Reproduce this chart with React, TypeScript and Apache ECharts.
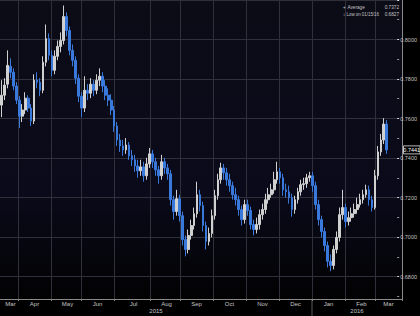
import React, { useEffect, useRef } from 'react';
import * as echarts from 'echarts';

// ---- data -------------------------------------------------------------
const START_DATE = [2015, 2, 17]; // first trading day on the axis (17 Mar 2015)
const TRADING_DAYS = 268; // weekdays spanned by the x axis
const DAYS_PER_CANDLE = 2;

// [open, close, low, high] per two-day candle, AUD/USD
const OHLC: number[][] = [
  [0.7668, 0.7718, 0.7607, 0.7794], [0.7718, 0.7769, 0.7693, 0.7804], [0.7774, 0.7869, 0.7753, 0.7945],
  [0.7864, 0.7834, 0.7804, 0.7905], [0.7834, 0.7764, 0.7743, 0.7854], [0.7764, 0.7693, 0.7673, 0.7784],
  [0.7693, 0.7612, 0.7552, 0.7713], [0.7612, 0.7643, 0.7582, 0.7673], [0.7643, 0.7703, 0.7622, 0.7733],
  [0.7703, 0.7653, 0.7633, 0.7718], [0.7653, 0.7587, 0.7562, 0.7673], [0.7587, 0.7794, 0.7572, 0.7824],
  [0.7794, 0.7784, 0.7753, 0.7834], [0.7784, 0.7743, 0.7713, 0.7804], [0.7743, 0.7885, 0.7728, 0.7915],
  [0.7885, 0.8005, 0.7864, 0.8076], [0.8005, 0.7920, 0.7895, 0.8031], [0.7920, 0.7844, 0.7814, 0.7945],
  [0.7844, 0.7915, 0.7824, 0.7945], [0.7915, 0.7965, 0.7895, 0.7995], [0.7965, 0.7995, 0.7935, 0.8036],
  [0.7995, 0.8116, 0.7975, 0.8172], [0.8116, 0.8046, 0.8016, 0.8137], [0.8046, 0.7945, 0.7920, 0.8066],
  [0.7945, 0.7895, 0.7864, 0.7975], [0.7895, 0.7804, 0.7774, 0.7915], [0.7804, 0.7713, 0.7683, 0.7824],
  [0.7713, 0.7653, 0.7607, 0.7733], [0.7653, 0.7743, 0.7633, 0.7814], [0.7743, 0.7728, 0.7693, 0.7774],
  [0.7728, 0.7774, 0.7703, 0.7804], [0.7774, 0.7743, 0.7713, 0.7794], [0.7743, 0.7794, 0.7723, 0.7824],
  [0.7794, 0.7814, 0.7764, 0.7854], [0.7814, 0.7764, 0.7733, 0.7834], [0.7764, 0.7718, 0.7693, 0.7794],
  [0.7718, 0.7693, 0.7663, 0.7753], [0.7693, 0.7643, 0.7617, 0.7723], [0.7643, 0.7562, 0.7532, 0.7663],
  [0.7562, 0.7491, 0.7461, 0.7582], [0.7491, 0.7461, 0.7431, 0.7522], [0.7461, 0.7441, 0.7411, 0.7491],
  [0.7441, 0.7466, 0.7421, 0.7501], [0.7466, 0.7411, 0.7391, 0.7481], [0.7411, 0.7391, 0.7360, 0.7441],
  [0.7391, 0.7360, 0.7330, 0.7416], [0.7360, 0.7335, 0.7300, 0.7391], [0.7335, 0.7355, 0.7310, 0.7391],
  [0.7355, 0.7310, 0.7280, 0.7381], [0.7310, 0.7370, 0.7290, 0.7401], [0.7370, 0.7421, 0.7350, 0.7451],
  [0.7421, 0.7381, 0.7350, 0.7441], [0.7381, 0.7340, 0.7310, 0.7401], [0.7340, 0.7310, 0.7270, 0.7360],
  [0.7310, 0.7381, 0.7290, 0.7416], [0.7381, 0.7350, 0.7320, 0.7401], [0.7350, 0.7320, 0.7290, 0.7370],
  [0.7320, 0.7189, 0.7159, 0.7340], [0.7189, 0.7129, 0.7088, 0.7209], [0.7129, 0.7194, 0.7108, 0.7239],
  [0.7194, 0.7108, 0.7078, 0.7214], [0.7108, 0.6987, 0.6957, 0.7129], [0.6987, 0.6937, 0.6902, 0.7008],
  [0.6937, 0.7008, 0.6917, 0.7038], [0.7008, 0.7058, 0.6987, 0.7088], [0.7058, 0.7118, 0.7038, 0.7149],
  [0.7118, 0.7214, 0.7098, 0.7280], [0.7214, 0.7159, 0.7129, 0.7239], [0.7159, 0.7058, 0.7028, 0.7179],
  [0.7058, 0.6977, 0.6937, 0.7078], [0.6977, 0.7018, 0.6957, 0.7048], [0.7018, 0.7108, 0.6998, 0.7139],
  [0.7108, 0.7209, 0.7088, 0.7239], [0.7209, 0.7290, 0.7189, 0.7320], [0.7290, 0.7350, 0.7270, 0.7376],
  [0.7350, 0.7325, 0.7290, 0.7370], [0.7325, 0.7290, 0.7260, 0.7350], [0.7290, 0.7260, 0.7229, 0.7320],
  [0.7260, 0.7214, 0.7189, 0.7280], [0.7214, 0.7189, 0.7159, 0.7249], [0.7189, 0.7139, 0.7108, 0.7209],
  [0.7139, 0.7088, 0.7058, 0.7159], [0.7088, 0.7164, 0.7068, 0.7189], [0.7164, 0.7134, 0.7108, 0.7189],
  [0.7134, 0.7063, 0.7038, 0.7154], [0.7063, 0.7038, 0.7008, 0.7088], [0.7038, 0.7063, 0.7018, 0.7098],
  [0.7063, 0.7113, 0.7038, 0.7139], [0.7113, 0.7139, 0.7088, 0.7169], [0.7139, 0.7189, 0.7118, 0.7219],
  [0.7189, 0.7214, 0.7169, 0.7249], [0.7214, 0.7239, 0.7199, 0.7270], [0.7239, 0.7290, 0.7219, 0.7330],
  [0.7290, 0.7330, 0.7270, 0.7381], [0.7330, 0.7300, 0.7270, 0.7350], [0.7300, 0.7239, 0.7209, 0.7320],
  [0.7239, 0.7229, 0.7199, 0.7270], [0.7229, 0.7199, 0.7169, 0.7260], [0.7199, 0.7139, 0.7103, 0.7219],
  [0.7139, 0.7189, 0.7118, 0.7209], [0.7189, 0.7229, 0.7169, 0.7249], [0.7229, 0.7265, 0.7209, 0.7290],
  [0.7265, 0.7270, 0.7239, 0.7300], [0.7270, 0.7300, 0.7249, 0.7320], [0.7300, 0.7310, 0.7280, 0.7330],
  [0.7310, 0.7260, 0.7229, 0.7330], [0.7260, 0.7164, 0.7139, 0.7280], [0.7164, 0.7088, 0.7058, 0.7189],
  [0.7088, 0.7028, 0.6998, 0.7108], [0.7028, 0.6957, 0.6927, 0.7048], [0.6957, 0.6877, 0.6846, 0.6977],
  [0.6877, 0.6856, 0.6827, 0.6912], [0.6856, 0.6937, 0.6836, 0.6957], [0.6937, 0.6998, 0.6917, 0.7028],
  [0.6998, 0.7113, 0.6977, 0.7149], [0.7113, 0.7149, 0.7088, 0.7239], [0.7149, 0.7078, 0.7048, 0.7169],
  [0.7078, 0.7098, 0.7058, 0.7129], [0.7098, 0.7118, 0.7078, 0.7149], [0.7118, 0.7139, 0.7098, 0.7169],
  [0.7139, 0.7164, 0.7118, 0.7199], [0.7164, 0.7189, 0.7149, 0.7219], [0.7189, 0.7214, 0.7169, 0.7239],
  [0.7214, 0.7239, 0.7199, 0.7265], [0.7239, 0.7189, 0.7159, 0.7260], [0.7189, 0.7149, 0.7129, 0.7209],
  [0.7149, 0.7310, 0.7139, 0.7340], [0.7310, 0.7431, 0.7290, 0.7461], [0.7431, 0.7491, 0.7411, 0.7522],
  [0.7491, 0.7572, 0.7471, 0.7602], [0.7572, 0.7441, 0.7421, 0.7592],
];

const Y_MIN = 0.66;
const Y_MAX = 0.82;
const Y_STEP = 0.02;
const LAST_PRICE = 0.7441;
const AVERAGE = 0.7372;
const LOW = 0.6827;
const LOW_DATE = '01/15/16';
const MONTH_NAMES = ['Jan', 'Feb', 'Mar', 'Apr', 'May', 'Jun', 'Jul', 'Aug', 'Sep', 'Oct', 'Nov', 'Dec'];

// ---- styling ----------------------------------------------------------
const FONT = '"Liberation Sans Narrow", "Liberation Sans", "DejaVu Sans Condensed", sans-serif';
const TEXT = '#c4c4c4';
const GRID_LINE = '#30303a';
const AXIS_LINE = '#8a8a8a';
const UP = '#d0d0d0';
const DOWN = '#3a79dc';

function buildCategories(): string[] {
  const days: Date[] = [];
  const d = new Date(Date.UTC(START_DATE[0], START_DATE[1], START_DATE[2]));
  while (days.length < TRADING_DAYS) {
    const wd = d.getUTCDay();
    if (wd !== 0 && wd !== 6) days.push(new Date(d.getTime()));
    d.setUTCDate(d.getUTCDate() + 1);
  }
  const cats: string[] = [];
  for (let i = 0; i < days.length; i += DAYS_PER_CANDLE) {
    cats.push(days[i].toISOString().slice(0, 10));
  }
  return cats;
}

export default function App() {
  const ref = useRef<HTMLDivElement>(null);

  useEffect(() => {
    if (!ref.current) return;
    const chart = echarts.init(ref.current, undefined, { renderer: 'svg' });
    const cats = buildCategories();
    const month = (c: string) => c.slice(0, 7);

    const monthStarts = new Set<number>();
    for (let i = 1; i < cats.length; i++) if (month(cats[i]) !== month(cats[i - 1])) monthStarts.add(i);

    const groups: Record<string, number[]> = {};
    cats.forEach((c, i) => {
      (groups[month(c)] = groups[month(c)] || []).push(i);
    });
    const labelIdx = new Set<number>();
    Object.values(groups).forEach((g) => labelIdx.add(Math.floor((g[0] + g[g.length - 1] + 1) / 2)));

    chart.setOption({
      animation: false,
      backgroundColor: '#000000',
      textStyle: { fontFamily: FONT },
      grid: [
        { left: 0, right: 18, top: -0.75, height: 318, containLabel: false },
        {
          left: 0, right: 18, top: 0, bottom: 17, show: true, borderWidth: 0,
          backgroundColor: new echarts.graphic.LinearGradient(0, 0, 0, 1, [
            { offset: 0, color: '#0c0c17' },
            { offset: 0.65, color: '#0a0a1a' },
            { offset: 1, color: '#020203' },
          ]),
        },
      ],
      xAxis: [
        { type: 'category', gridIndex: 0, data: cats, show: false, boundaryGap: true },
        {
          type: 'category', gridIndex: 1, data: cats, boundaryGap: true,
          axisLine: { show: true, lineStyle: { color: AXIS_LINE, width: 1 } },
          axisTick: { show: true, length: 2, interval: (i: number) => monthStarts.has(i), lineStyle: { color: AXIS_LINE } },
          axisLabel: {
            interval: (i: number) => labelIdx.has(i),
            formatter: (v: string) => MONTH_NAMES[Number(v.slice(5, 7)) - 1],
            color: TEXT, fontSize: 6, margin: 2, fontFamily: FONT,
          },
          splitLine: { show: true, interval: (i: number) => monthStarts.has(i), lineStyle: { color: GRID_LINE, width: 1 } },
        },
      ],
      yAxis: [
        {
          type: 'value', gridIndex: 0, position: 'right', min: Y_MIN, max: Y_MAX, interval: Y_STEP,
          axisLine: { show: false },
          axisTick: { show: true, length: 2, lineStyle: { color: '#dddddd' } },
          minorTick: { show: true, splitNumber: 2, length: 2, lineStyle: { color: '#9a9a9a' } },
          axisLabel: {
            formatter: (v: number) => v.toFixed(4), color: TEXT, fontSize: 5.5, margin: 3,
            showMinLabel: false, showMaxLabel: false, fontFamily: FONT,
          },
          splitLine: { show: true, lineStyle: { color: GRID_LINE, width: 1 } },
        },
        {
          type: 'value', gridIndex: 1, position: 'right', min: 0, max: 1,
          axisLine: { show: true, lineStyle: { color: AXIS_LINE, width: 1 } },
          axisTick: { show: false }, axisLabel: { show: false }, splitLine: { show: false },
        },
      ],
      series: [
        {
          type: 'candlestick', xAxisIndex: 0, yAxisIndex: 0, data: OHLC, barWidth: 2.2,
          itemStyle: { color: UP, color0: DOWN, borderColor: UP, borderColor0: DOWN, borderWidth: 1 },
        },
      ],
    });

    const px = (i: number) => chart.convertToPixel({ xAxisIndex: 1 }, i) as unknown as number;
    const W = px(1) - px(0);
    const left = px(0) - W / 2;
    const right = px(cats.length - 1) + W / 2;
    const yearIdx = cats.findIndex((c) => c.startsWith('2016'));
    const yearX = px(yearIdx) - W / 2;
    const axisY = chart.convertToPixel({ yAxisIndex: 1 }, 0) as unknown as number;
    const lastY = chart.convertToPixel({ yAxisIndex: 0 }, LAST_PRICE) as unknown as number;

    const txt = (text: string, x: number, y: number, align: string, size = 5.5, fill = TEXT, sx = 1) => ({
      type: 'text', x, y, silent: true, z: 10, scaleX: sx,
      style: { text, fill, fontSize: size, fontFamily: FONT, align, verticalAlign: 'middle' },
    });

    chart.setOption({
      graphic: [
        { type: 'line', silent: true, shape: { x1: yearX, y1: axisY, x2: yearX, y2: 316 }, style: { stroke: '#5a5a5a', lineWidth: 1 } },
        txt('2015', (left + yearX) / 2, axisY + 12, 'center', 6),
        txt('2016', (yearX + right) / 2, axisY + 12, 'center', 6),
        txt('+', 343, 6.5, 'left', 5.5, TEXT, 0.85),
        txt('Average', 347.5, 6.5, 'left', 5.5, TEXT, 0.85),
        txt(AVERAGE.toFixed(4), 399, 6.5, 'right', 5.5, TEXT, 0.85),
        txt('↓', 343, 14, 'left', 5.5, TEXT, 0.85),
        txt(`Low on ${LOW_DATE}`, 346.5, 14, 'left', 5.5, TEXT, 0.8),
        txt(LOW.toFixed(4), 399, 14, 'right', 5.5, TEXT, 0.85),
        {
          type: 'rect', silent: true, z: 10,
          shape: { x: right + 1.5, y: lastY - 4, width: 16.5, height: 8 },
          style: { fill: '#000000', stroke: '#e6e6e6', lineWidth: 0.8 },
        },
        txt(LAST_PRICE.toFixed(4), right + 9.75, lastY, 'center', 5.5, '#ffffff'),
      ],
    });

    return () => chart.dispose();
  }, []);

  return (
    <div
      ref={ref}
      style={{ position: 'fixed', left: 0, top: 0, width: 420, height: 316, background: '#000' }}
    />
  );
}
